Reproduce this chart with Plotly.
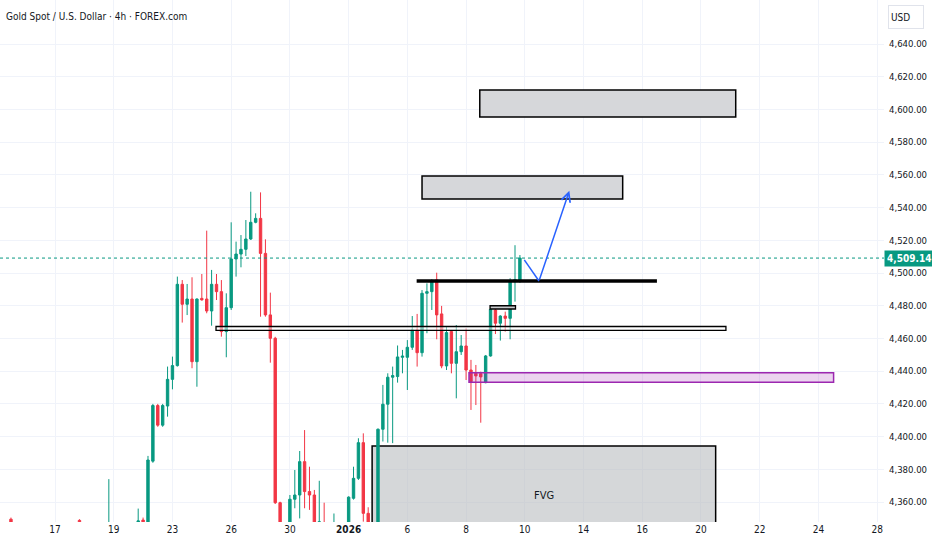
import plotly.graph_objects as go

# 4h bars, x = bar index (TradingView style, no gaps for weekends)
bar = [-9, 5, 11, 17, 18,
       19, 20, 21, 22, 23, 24, 25, 26, 27, 28, 29, 30, 31, 32, 33, 34, 35, 36, 37, 38, 39, 40, 41, 42, 43, 44, 45, 46,
       48, 49, 50, 51, 52, 53, 54, 55, 57, 60, 61, 62, 63, 64,
       66, 67, 68, 69, 70, 71, 72, 73, 74, 75, 76, 77, 78, 79, 80, 81, 82, 83, 84, 85, 86, 87, 88, 89, 90, 91, 92, 93, 94, 95]

open_ = [4349.5, 4348.8, 4330, 4338, 4349,
         4344, 4385, 4419, 4407, 4418.7, 4435, 4443.4, 4493.1, 4480.9, 4484.1, 4445.8, 4484.5, 4484.1, 4476.8, 4493.1,
         4488.6, 4464.2, 4478.8, 4508.6, 4511.6, 4514.5, 4520.8, 4531, 4533.4, 4512, 4474.4, 4460.1, 4359.6,
         4335, 4361.7, 4364.3, 4384.7, 4366.4, 4364.3, 4335, 4347, 4335, 4340, 4362.3, 4374.5, 4396.3, 4353.1,
         4340, 4404.5, 4419.8, 4436.3, 4436.7, 4448.5, 4448.5, 4454.6, 4465.2, 4451.3, 4487.6, 4488.6, 4495.8, 4475,
         4443.2, 4464.2, 4444.8, 4451.9, 4455.4, 4440.7, 4438.7, 4438.5, 4433, 4449.3, 4477.4, 4469.3, 4473.7, 4472.3,
         4494.7, 4495.7]

high = [4350.5, 4349.5, 4374, 4356, 4350.5,
        4388.2, 4420, 4420, 4420, 4442.8, 4448.9, 4497.8, 4495.7, 4493.3, 4497.4, 4484.5, 4499.4, 4525.9, 4501.9, 4499.4,
        4495.7, 4487.6, 4531, 4519.2, 4523.2, 4532.4, 4549.7, 4536.5, 4549.3, 4520.6, 4488, 4461, 4360.2,
        4364.3, 4379.6, 4391.2, 4404, 4381.6, 4367.4, 4373, 4359.6, 4353, 4363.5, 4381.6, 4399, 4402, 4356.8,
        4405, 4431.6, 4438.7, 4442.8, 4455.7, 4453, 4459, 4473.7, 4475, 4489.6, 4493.7, 4496.2, 4500.2, 4479.9,
        4467.2, 4465.2, 4468.2, 4462.1, 4466.2, 4446.9, 4443.8, 4439.7, 4449.9, 4479.9, 4479.5, 4474.2, 4476.4, 4496.8,
        4517, 4511]

low = [4332, 4334, 4326, 4334, 4338,
       4342, 4384, 4406, 4406, 4412.2, 4428.9, 4442.8, 4469.7, 4474.3, 4441.8, 4430.5, 4483.1, 4475.4, 4467.8, 4483.5,
       4461.1, 4448.5, 4477.4, 4497.8, 4503.5, 4510.4, 4520.2, 4530.4, 4473.3, 4473.3, 4445.2, 4358.8, 4322,
       4330, 4356.2, 4350, 4356.2, 4355.2, 4335, 4330, 4328, 4330, 4335, 4361.5, 4373.5, 4348, 4335,
       4335, 4397, 4396.3, 4396, 4433, 4438.7, 4428.5, 4453, 4442.8, 4448.9, 4463.2, 4477.4, 4459.5, 4441.8,
       4440.7, 4438.7, 4423.4, 4449.9, 4434.6, 4416.3, 4419.3, 4408.5, 4432.6, 4448.9, 4462.7, 4458.7, 4464.2, 4459.5,
       4482.5, 4494]

close = [4338, 4340, 4345, 4348.5, 4342,
         4385.7, 4419, 4407, 4419, 4435, 4443.4, 4493.1, 4480.9, 4484.1, 4445.8, 4484.1, 4483.6, 4476.8, 4493.1, 4488.6,
         4464.2, 4478.8, 4508.6, 4511.6, 4514.5, 4520.8, 4531, 4533.4, 4512, 4474.4, 4460.1, 4359.6, 4330,
         4361.7, 4364.3, 4384.7, 4366.4, 4364.3, 4340, 4348, 4335, 4345, 4363, 4374.5, 4396.3, 4353.1, 4340,
         4404.5, 4419.8, 4436.3, 4437.3, 4448.7, 4449.2, 4454.6, 4465.2, 4451.3, 4487.6, 4488.6, 4494.7, 4474.4, 4443.2,
         4463.6, 4444.8, 4451.9, 4455.4, 4440.7, 4433.6, 4437.1, 4436.5, 4449.3, 4477.8, 4469.3, 4473.7, 4472.3, 4494.7,
         4496, 4509.14]

tick_pos = [0, 12, 24, 36, 48, 60, 72, 84, 96, 108, 120, 132, 144, 156, 168]
tick_text = ["17", "19", "23", "26", "30", "<b>2026</b>", "6", "8", "10", "14", "16", "20", "22", "24", "28"]
price_ticks = list(range(4360, 4641, 20))
last_price = 4509.14

GREEN = "#089981"
RED = "#F23645"
TEXT = "#131722"
GRID = "#f0f3fa"
FONT = "DejaVu Sans Condensed, Liberation Sans Narrow, Liberation Sans, Arial"

fig = go.Figure()

fig.add_trace(go.Candlestick(
    x=bar, open=open_, high=high, low=low, close=close,
    increasing=dict(line=dict(color=GREEN, width=1), fillcolor=GREEN),
    decreasing=dict(line=dict(color=RED, width=1), fillcolor=RED),
    hoverinfo="skip", showlegend=False,
))

# user drawings (zones, levels, projection arrow)
shapes = []
# FVG zone, behind the candles
shapes.append(dict(type="rect", x0=64.8, x1=135, y0=4300, y1=4394.3, layer="between",
                   fillcolor="rgba(185,188,192,0.6)", line=dict(color="black", width=1.5)))
# supply boxes
for x0, x1, y0, y1 in [(86.8, 139.1, 4595.4, 4611.9), (75, 116, 4545.3, 4559.3)]:
    shapes.append(dict(type="rect", x0=x0, x1=x1, y0=y0, y1=y1, layer="above",
                       fillcolor="#d6d7da", line=dict(color="black", width=1.5)))
# levels
shapes.append(dict(type="line", x0=73.9, x1=123, y0=4495.1, y1=4495.1, layer="above",
                   line=dict(color="black", width=3.5)))
shapes.append(dict(type="rect", x0=32.9, x1=137.1, y0=4465.0, y1=4467.3, layer="above",
                   fillcolor="rgba(255,255,255,0.5)", line=dict(color="black", width=1.3)))
shapes.append(dict(type="rect", x0=88.9, x1=94.1, y0=4478, y1=4480, layer="above",
                   fillcolor="#c8cacd", line=dict(color="black", width=1.3)))
shapes.append(dict(type="rect", x0=84.6, x1=159.1, y0=4433.3, y1=4439.1, layer="above",
                   fillcolor="rgba(156,39,176,0.2)", line=dict(color="#9c27b0", width=1.5)))
# last price line
shapes.append(dict(type="line", xref="paper", x0=0, x1=1, y0=last_price, y1=last_price, layer="above",
                   line=dict(color=GREEN, width=1, dash="dot")))
# projection: first leg down to the level
shapes.append(dict(type="line", x0=95.9, x1=98.9, y0=4508, y1=4495.1, layer="above",
                   line=dict(color="#2962FF", width=1.5)))

fig.update_layout(shapes=shapes)

# second leg with arrow head
fig.add_annotation(x=105.1, y=4550.3, ax=98.9, ay=4495.1, xref="x", yref="y", axref="x", ayref="y",
                   text="", showarrow=True, arrowhead=5, arrowsize=1.2, arrowwidth=1.5, arrowcolor="#2962FF")

fig.add_annotation(x=100, y=4364.3, text="FVG", showarrow=False, font=dict(family=FONT, size=11, color=TEXT))

fig.add_annotation(xref="paper", yref="paper", x=0, y=1, xanchor="left", yanchor="top", xshift=4, yshift=-9,
                   text="Gold Spot / U.S. Dollar · 4h · FOREX.com", showarrow=False,
                   font=dict(family=FONT, size=10, color=TEXT))

fig.add_annotation(xref="paper", yref="paper", x=1, y=1, xanchor="left", yanchor="top", xshift=4, yshift=-5,
                   text="USD", showarrow=False, align="left", width=30, height=18,
                   bordercolor="#e0e3eb", borderwidth=1, borderpad=2,
                   font=dict(family=FONT, size=10, color=TEXT))

fig.add_annotation(xref="paper", yref="y", x=1, y=last_price, xanchor="left", yanchor="middle", xshift=0,
                   text="<b>4,509.14</b>", showarrow=False, bgcolor=GREEN, borderpad=2,
                   font=dict(family=FONT, size=10, color="white"))

fig.update_xaxes(range=[-11.24, 169.4], tickmode="array", tickvals=tick_pos, ticktext=tick_text,
                 showgrid=True, gridcolor=GRID, gridwidth=1, zeroline=False, showline=False,
                 ticks="", rangeslider_visible=False,
                 tickfont=dict(family=FONT, size=10, color=TEXT))
fig.update_yaxes(range=[4347.8, 4666.9], side="right", tickmode="array", tickvals=price_ticks,
                 tickformat=",.2f", showgrid=True, gridcolor=GRID, gridwidth=1, zeroline=False,
                 showline=False, ticks="", ticklabelstandoff=4,
                 tickfont=dict(family=FONT, size=9.5, color=TEXT))

fig.update_layout(
    width=932, height=550,
    margin=dict(l=0, r=48, t=0, b=28),
    paper_bgcolor="white", plot_bgcolor="white",
    hovermode=False,
)

# drop the browser's default 8px body margin so the chart sits at the page corner
fig.write_html("out.html", config={"displayModeBar": False},
               post_script="document.body.style.margin='0';")
